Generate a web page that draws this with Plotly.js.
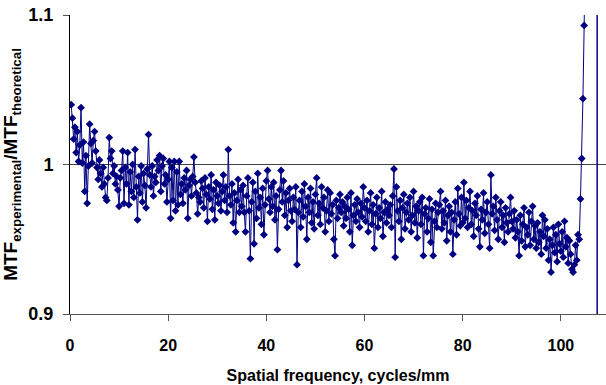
<!DOCTYPE html>
<html>
<head>
<meta charset="utf-8">
<script src="https://cdn.plot.ly/plotly-3.0.1.min.js"></script>
<style>html,body{margin:0;padding:0;background:#fff}#chart{width:606px;height:385px}</style>
</head>
<body>
<div id="chart"></div>
<script>
// Spatial frequency sampling (cycles/mm)
const freqStart = 0.25;
const freqStep = 0.25;

// MTF_experimental / MTF_theoretical
const ratio0to25 = [
  1.040,1.031,1.017,1.025,1.008,1.022,1.002,1.013,1.038,1.001,1.015,0.982,1.006,0.974,0.999,1.027,1.014,1.001,1.016,1.022,
  1.009,0.998,0.990,1.003,0.994,0.985,0.998,0.987,0.978,0.976,0.991,1.018,1.004,1.009,0.994,0.999,0.987,0.992,0.983,0.972,
  0.991,0.996,1.009,0.974,0.998,0.987,1.008,0.973,0.995,0.982,1.000,0.978,1.010,0.985,0.963,0.992,0.981,0.999,0.975,0.994,
  0.986,0.971,0.997,1.020,0.993,0.985,0.999,0.979,0.992,0.988,1.003,0.996,1.006,0.982,0.999,1.004,0.987,0.993,0.975,0.990,
  1.002,0.964,0.998,0.976,1.002,0.969,0.995,0.973,1.002,0.980,0.987,0.974,0.991,0.983,0.996,0.964,0.986,0.990,0.979,0.992
];
const ratio25to50 = [
  1.005,0.988,0.981,0.967,0.978,0.975,0.989,0.984,0.971,0.991,0.980,0.962,0.985,0.977,0.993,0.970,0.983,0.963,0.988,0.979,
  0.974,0.986,0.969,0.982,0.993,0.976,0.985,0.968,1.010,0.979,0.973,0.987,0.961,0.981,0.955,0.976,0.990,0.968,0.983,0.972,
  0.986,0.968,0.955,0.979,0.991,0.969,0.937,0.975,0.988,0.947,0.982,0.964,0.994,0.971,0.978,0.960,0.984,0.953,0.973,0.989,
  0.996,0.977,0.968,0.985,0.972,0.988,0.963,0.979,0.943,0.970,0.983,0.996,0.975,0.989,0.966,0.981,0.958,0.976,0.984,0.969,
  0.962,0.978,0.970,0.985,0.933,0.968,0.976,0.958,0.982,0.965,0.987,0.972,0.950,0.978,0.968,0.984,0.961,0.975,0.957,0.980
];
const ratio50to75 = [
  0.991,0.966,0.974,0.960,0.985,0.971,0.978,0.955,0.969,0.983,0.962,0.981,0.967,0.973,0.950,0.939,0.976,0.964,0.971,0.980,
  0.968,0.975,0.959,0.972,0.964,0.978,0.970,0.955,0.981,0.946,0.966,0.973,0.962,0.977,0.968,0.958,0.974,0.965,0.985,0.971,
  0.962,0.976,0.955,0.969,0.981,0.960,0.973,0.944,0.967,0.978,0.958,0.971,0.964,0.982,0.952,0.968,0.975,0.961,0.970,0.966,
  0.973,0.958,0.979,0.997,0.938,0.985,0.969,0.962,0.976,0.950,0.971,0.980,0.957,0.968,0.974,0.963,0.978,0.955,0.966,0.982,
  0.961,0.972,0.951,0.969,0.975,0.960,0.978,0.939,0.967,0.971,0.955,0.964,0.977,0.948,0.970,0.939,0.962,0.974,0.958,0.968
];
const ratio75to100 = [
  0.973,0.982,0.957,0.969,0.961,0.976,0.949,0.966,0.972,0.955,0.968,0.940,0.963,0.975,0.953,0.984,0.967,0.959,0.978,0.961,
  0.988,0.964,0.976,0.958,0.971,0.982,0.960,0.969,0.952,0.974,0.966,0.979,0.957,0.945,0.970,0.963,0.981,0.954,0.968,0.975,
  0.960,0.944,0.993,0.967,0.972,0.956,0.978,0.963,0.950,0.969,0.975,0.958,0.966,0.948,0.971,0.961,0.955,0.967,0.978,0.962,
  0.957,0.969,0.951,0.963,0.955,0.939,0.966,0.949,0.960,0.971,0.945,0.958,0.953,0.968,0.946,0.962,0.972,0.950,0.959,0.944,
  0.961,0.948,0.955,0.940,0.966,0.952,0.963,0.944,0.957,0.936,0.950,0.928,0.946,0.958,0.941,0.953,0.935,0.960,0.947,0.942
];
const ratio100toEnd = [
  0.955,0.938,0.962,0.945,0.951,0.934,0.949,0.940,0.930,0.928,0.933,0.946,0.936,0.953,
  0.950,0.977,1.004,1.044,1.093,1.160
];

const ratio = [].concat(ratio0to25, ratio25to50, ratio50to75, ratio75to100, ratio100toEnd);
const freq = ratio.map((_, i) => freqStart + i * freqStep);

const xTicks = [0, 20, 40, 60, 80, 100];
const yTicks = [0.9, 1, 1.1];
const yTickText = ['0.9', '1', '1.1'];
const limitFreq = 107.4;

const navy = '#000080';
const font = 'Liberation Sans, Arial, sans-serif';

const trace = {
  x: freq, y: ratio, type: 'scatter', mode: 'lines+markers',
  line: {color: navy, width: 1},
  marker: {symbol: 'diamond', size: 6, color: navy},
  cliponaxis: true,
  hoverinfo: 'skip'
};

const layout = {
  width: 606, height: 385,
  margin: {l: 70, r: 0, t: 15, b: 71},
  paper_bgcolor: '#fff', plot_bgcolor: '#fff',
  showlegend: false,
  font: {family: font, color: '#000'},
  xaxis: {
    range: [0, 109.2], tickvals: xTicks, ticks: 'outside', ticklen: 6, tickcolor: '#555',
    showline: true, linecolor: '#555', linewidth: 1, showgrid: false, zeroline: false,
    tickfont: {family: font, size: 16, color: '#000', weight: 'bold'},
    ticklabelstandoff: 11,
    title: {text: 'Spatial frequency, cycles/mm', font: {family: font, size: 16, weight: 'bold', color: '#000'}, standoff: 16}
  },
  yaxis: {
    range: [0.9, 1.1], tickvals: yTicks, ticktext: yTickText, ticks: 'outside', ticklen: 6, tickcolor: '#555',
    showline: true, linecolor: '#000', linewidth: 1, showgrid: true, gridcolor: '#444', gridwidth: 1, zeroline: false,
    tickfont: {family: font, size: 18, color: '#000', weight: 'bold'},
    ticklabelstandoff: 6,
    title: {text: 'MTF<sub>experimental</sub>/MTF<sub>theoretical</sub>', font: {family: font, size: 19, weight: 'bold', color: '#000'}, standoff: 7}
  },
  shapes: [{
    type: 'line', xref: 'x', yref: 'y', x0: limitFreq, x1: limitFreq, y0: 0.9, y1: 1.1,
    line: {color: navy, width: 1.5}
  }]
};

Plotly.newPlot('chart', [trace], layout, {staticPlot: true, displayModeBar: false});
</script>
</body>
</html>
